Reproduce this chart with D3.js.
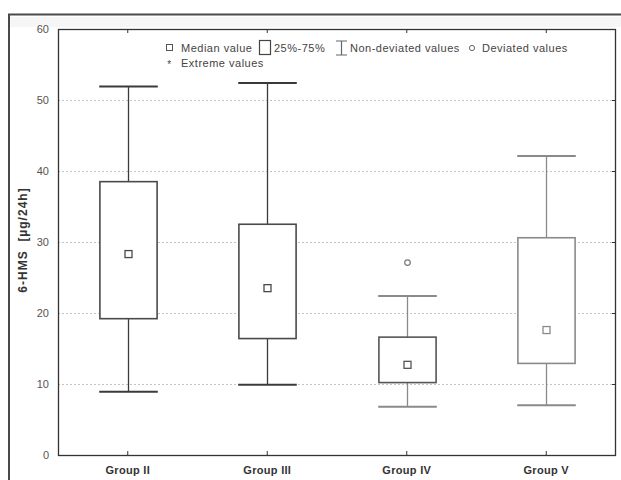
<!DOCTYPE html>
<html>
<head>
<meta charset="utf-8">
<script src="https://cdn.jsdelivr.net/npm/d3@7"></script>
<style>
  body { margin: 0; background: #fff; }
  svg { display: block; font-family: "Liberation Sans", Arial, sans-serif; }
</style>
</head>
<body>
<div id="chart"></div>
<script>
const groups = ['Group II', 'Group III', 'Group IV', 'Group V']
const whiskerLow = [8.9, 9.9, 6.8, 7.0]
const q1 = [19.2, 16.4, 10.2, 12.9]
const medians = [28.3, 23.5, 12.7, 17.6]
const q3 = [38.5, 32.5, 16.6, 30.6]
const whiskerHigh = [51.9, 52.4, 22.4, 42.1]
const outliers = [[], [], [27.1], []]
const yTicks = [0, 10, 20, 30, 40, 50, 60]

const boxColor = ['#4a4a4a', '#4a4a4a', '#555', '#8a8a8a']
const whiskColor = ['#3a3a3a', '#3a3a3a', '#8a8a8a', '#8a8a8a']

const width = 621, height = 480
const margin = { top: 29, right: 5, bottom: 25, left: 58 }

const svg = d3.select('#chart').append('svg')
    .attr('width', width).attr('height', height)

// outer frame
svg.append('rect')
    .attr('x', 9).attr('y', 14.5).attr('width', 640).attr('height', 500)
    .attr('fill', 'none').attr('stroke', '#4a4a4a').attr('stroke-width', 2)
svg.append('rect')
    .attr('x', 10).attr('y', 17).attr('width', 611).attr('height', 10)
    .attr('fill', '#f6f6f6')

const x = d3.scaleBand()
    .domain(groups)
    .range([margin.left, width - margin.right])
    .padding(0)

const y = d3.scaleLinear()
    .domain([0, 60])
    .range([height - margin.bottom, margin.top])

// grid
svg.selectAll('.grid')
    .data(yTicks.filter(d => d > 0 && d < 60)).enter()
    .append('line')
    .attr('x1', margin.left).attr('x2', width - margin.right)
    .attr('y1', d => Math.round(y(d)) + 0.5).attr('y2', d => Math.round(y(d)) + 0.5)
    .attr('stroke', '#c4c4c4').attr('stroke-dasharray', '2,2')

// left axis labels
svg.append('g')
    .attr('transform', `translate(${margin.left},0)`)
    .call(d3.axisLeft(y).tickValues(yTicks).tickSize(0).tickPadding(9))
    .call(g => g.select('.domain').remove())
    .selectAll('text').attr('fill', '#555').attr('font-size', '11px')
    .attr('font-family', '"Liberation Sans Narrow", "Liberation Sans", sans-serif')

// right axis ticks (inward)
svg.append('g')
    .attr('transform', `translate(${width - margin.right},0)`)
    .call(d3.axisLeft(y).tickValues(yTicks).tickSize(4).tickFormat(''))
    .call(g => g.select('.domain').remove())
    .selectAll('line').attr('stroke', '#333')

// bottom axis
const xAxis = svg.append('g')
    .attr('transform', `translate(0,${height - margin.bottom})`)
    .call(d3.axisTop(x).tickSize(4).tickFormat(''))
xAxis.select('.domain').remove()
xAxis.selectAll('line').attr('stroke', '#333')
svg.selectAll('.xlab')
    .data(groups).enter()
    .append('text')
    .attr('x', d => x(d) + x.bandwidth() / 2)
    .attr('y', height - margin.bottom + 19)
    .attr('text-anchor', 'middle')
    .attr('font-size', '11px').attr('font-weight', 'bold').attr('fill', '#333')
    .attr('letter-spacing', '0.3px')
    .text(d => d)

// top axis ticks (inward)
svg.append('g')
    .attr('transform', `translate(0,${margin.top})`)
    .call(d3.axisBottom(x).tickSize(4).tickFormat(''))
    .call(g => g.select('.domain').remove())
    .selectAll('line').attr('stroke', '#333')

// plot frame
svg.append('rect')
    .attr('x', margin.left + 0.5).attr('y', margin.top + 0.5)
    .attr('width', width - margin.left - margin.right - 1)
    .attr('height', height - margin.top - margin.bottom)
    .attr('fill', 'none').attr('stroke', '#333').attr('stroke-width', 1.3)

// y label
svg.append('text')
    .attr('transform', `translate(27,240) rotate(-90)`)
    .attr('text-anchor', 'middle')
    .attr('font-size', '12px').attr('font-weight', 'bold').attr('fill', '#333')
    .attr('letter-spacing', '1px')
    .attr('xml:space', 'preserve')
    .text('6-HMS  [µg/24h]')

// boxes
const boxW = x.bandwidth() * 0.41
const capW = x.bandwidth() * 0.21
groups.forEach((g, i) => {
    const cx = Math.round(x(g) + x.bandwidth() / 2) + 0.5
    const grp = svg.append('g')
    // whiskers
    grp.append('line')
        .attr('x1', cx).attr('x2', cx)
        .attr('y1', y(whiskerHigh[i])).attr('y2', y(q3[i]))
        .attr('stroke', whiskColor[i]).attr('stroke-width', 1.3)
    grp.append('line')
        .attr('x1', cx).attr('x2', cx)
        .attr('y1', y(q1[i])).attr('y2', y(whiskerLow[i]))
        .attr('stroke', whiskColor[i]).attr('stroke-width', 1.3)
    ;[whiskerHigh[i], whiskerLow[i]].forEach(v => {
        grp.append('line')
            .attr('x1', cx - capW).attr('x2', cx + capW)
            .attr('y1', y(v)).attr('y2', y(v))
            .attr('stroke', whiskColor[i]).attr('stroke-width', 2)
    })
    // box
    grp.append('rect')
        .attr('x', cx - boxW / 2).attr('width', boxW)
        .attr('y', y(q3[i])).attr('height', y(q1[i]) - y(q3[i]))
        .attr('fill', '#fff').attr('stroke', boxColor[i]).attr('stroke-width', 1.6)
    // median
    grp.append('rect')
        .attr('x', cx - 3.5).attr('y', y(medians[i]) - 3.5)
        .attr('width', 7).attr('height', 7)
        .attr('fill', '#fff').attr('stroke', boxColor[i]).attr('stroke-width', 1.3)
    // outliers
    outliers[i].forEach(v => {
        grp.append('circle')
            .attr('cx', cx).attr('cy', y(v)).attr('r', 2.8)
            .attr('fill', '#fff').attr('stroke', '#777').attr('stroke-width', 1.2)
    })
})

// legend
const leg = svg.append('g').attr('font-size', '11px').attr('fill', '#444')
    .attr('letter-spacing', '0.5px')
const ly1 = 48, ly2 = 63
leg.append('rect').attr('x', 166.5).attr('y', ly1 - 3.5).attr('width', 6).attr('height', 6)
    .attr('fill', '#fff').attr('stroke', '#555')
leg.append('text').attr('x', 181).attr('y', ly1 + 4).text('Median value')
leg.append('rect').attr('x', 259.5).attr('y', ly1 - 7.5).attr('width', 11).attr('height', 14)
    .attr('fill', '#fff').attr('stroke', '#444').attr('stroke-width', 1.2)
leg.append('text').attr('x', 274).attr('y', ly1 + 4).text('25%-75%')
leg.append('path')
    .attr('d', `M336,${ly1 - 7}H347M341.5,${ly1 - 7}V${ly1 + 7}M336,${ly1 + 7}H347`)
    .attr('fill', 'none').attr('stroke', '#666').attr('stroke-width', 1.2)
leg.append('text').attr('x', 350).attr('y', ly1 + 4).text('Non-deviated values')
leg.append('circle').attr('cx', 472).attr('cy', ly1).attr('r', 2.6)
    .attr('fill', '#fff').attr('stroke', '#666')
leg.append('text').attr('x', 482).attr('y', ly1 + 4).text('Deviated values')
leg.append('text').attr('x', 169.5).attr('y', ly2 + 5).attr('text-anchor', 'middle')
    .attr('font-size', '10px').text('*')
leg.append('text').attr('x', 181).attr('y', ly2 + 4).text('Extreme values')
</script>
</body>
</html>
